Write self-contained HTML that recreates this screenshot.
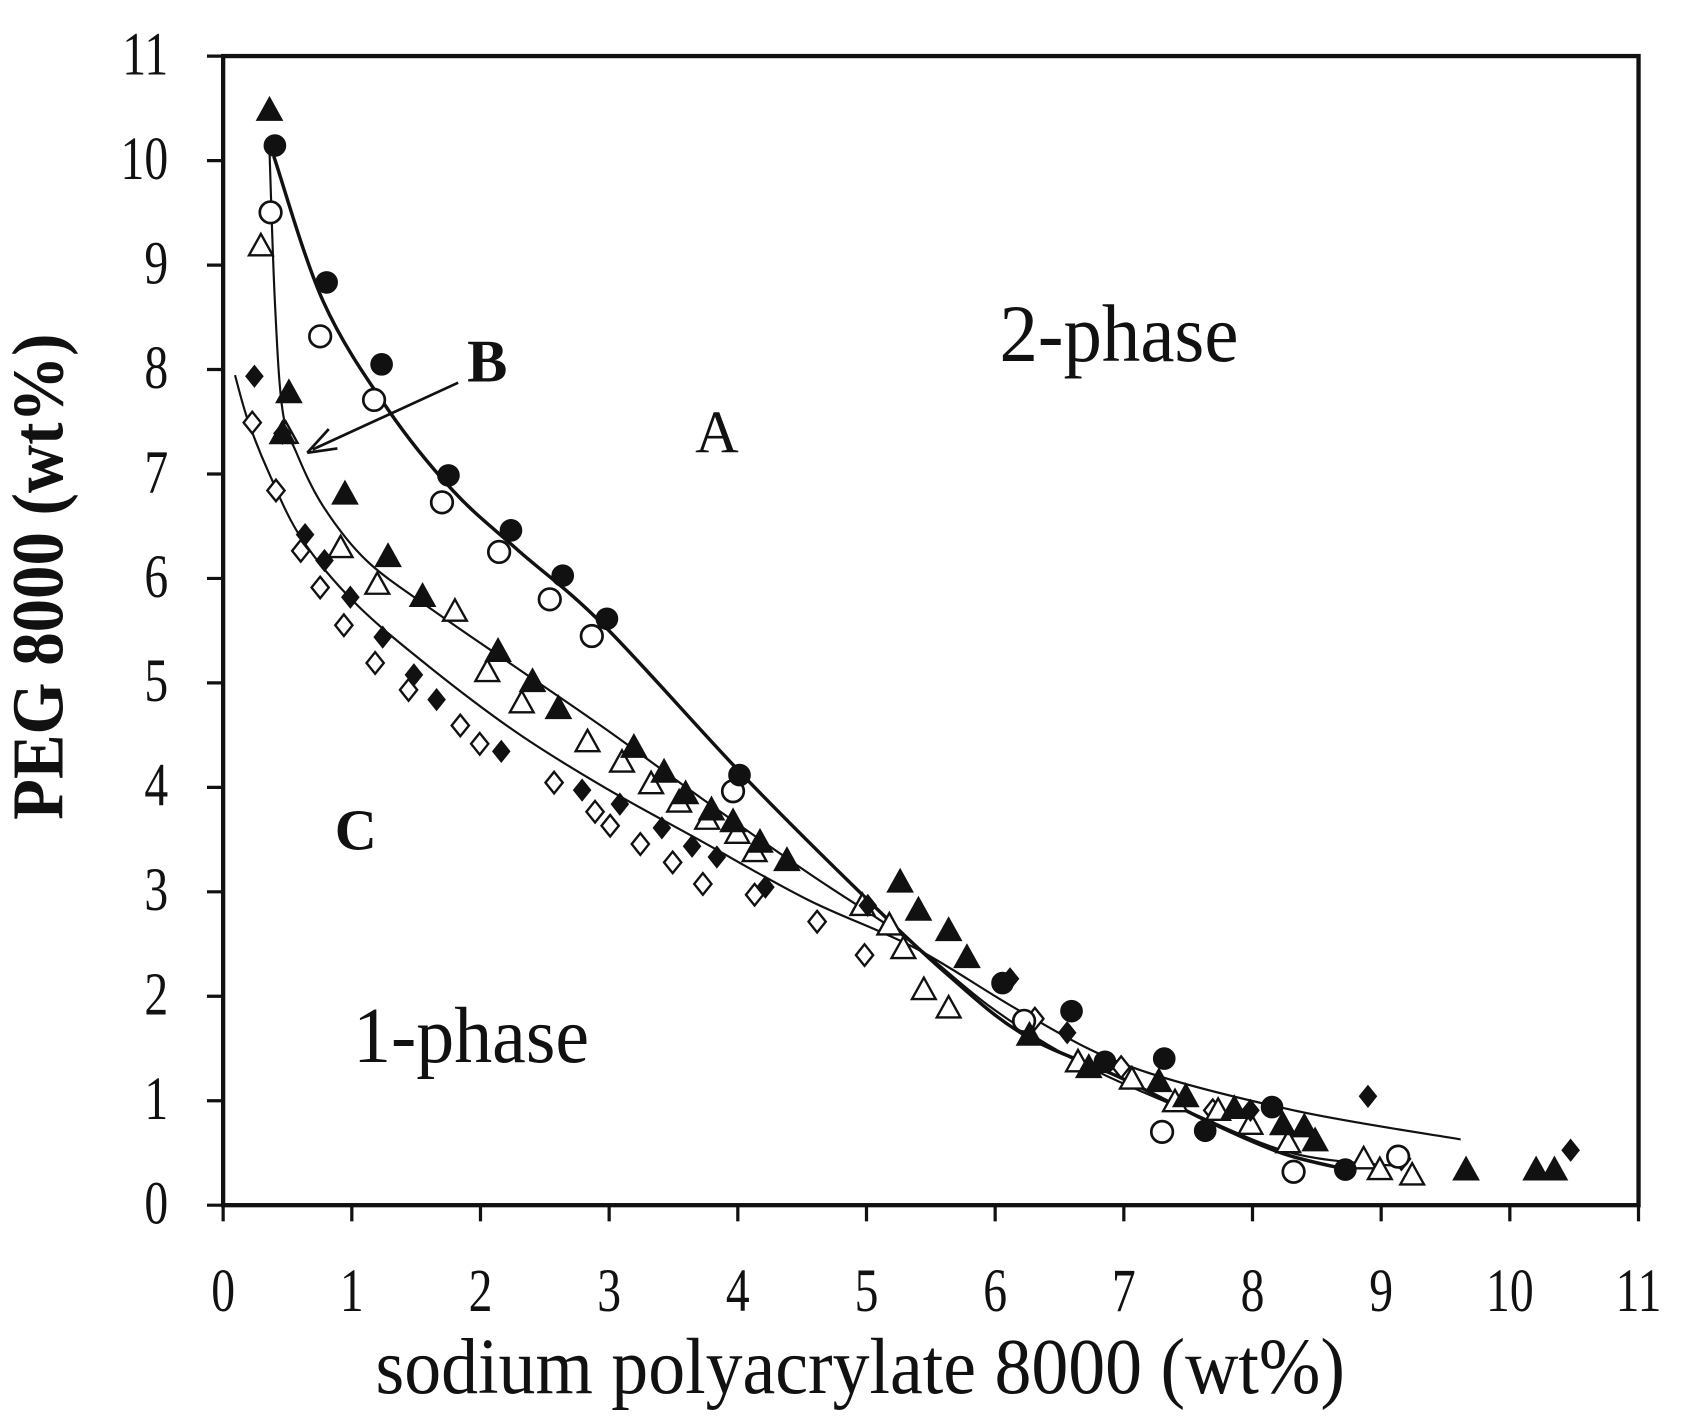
<!DOCTYPE html>
<html><head><meta charset="utf-8"><style>
html,body{margin:0;padding:0;background:#fff;}
svg{display:block;}
text{font-family:"Liberation Serif",serif;fill:#111;}
</style></head><body>
<svg id="s" width="1689" height="1428" viewBox="0 0 1566.8 1324.7" preserveAspectRatio="none" xmlns="http://www.w3.org/2000/svg">
<rect x="207" y="52" width="1313" height="1066" fill="none" stroke="#111" stroke-width="4"/>
<g id="ticks" stroke="#111" stroke-width="3"></g>
<g id="tl" font-size="52"></g>
<text transform="translate(798,1292) scale(1.07,1.15)" font-size="64" text-anchor="middle">sodium polyacrylate 8000 (wt%)</text>
<text transform="translate(58,535) rotate(-90) scale(1.0,1.1)" font-size="62" font-weight="bold" text-anchor="middle">PEG 8000 (wt%)</text>
<text x="452" y="354" font-size="56" font-weight="bold" text-anchor="middle">B</text>
<text x="665" y="420" font-size="56" text-anchor="middle">A</text>
<text transform="translate(1038,335) scale(1.08,1.15)" font-size="66" text-anchor="middle">2-phase</text>
<text x="330" y="788" font-size="54" font-weight="bold" text-anchor="middle">C</text>
<text transform="translate(437,985) scale(1.1,1.15)" font-size="64" text-anchor="middle">1-phase</text>
<line x1="425" y1="355" x2="290" y2="417" stroke="#111" stroke-width="2.5"/>
<path d="M285,420 L305,398 M285,420 L313,416" stroke="#111" stroke-width="2.5" fill="none"/>
<g id="curves" fill="none" stroke="#111" stroke-linejoin="round"></g>
<g id="pts"></g>
</svg>
<script>
var NS="http://www.w3.org/2000/svg";
function el(p,n,a){var e=document.createElementNS(NS,n);for(var k in a)e.setAttribute(k,a[k]);p.appendChild(e);return e;}
var T=document.getElementById('ticks'),L=document.getElementById('tl');
for(var i=0;i<=11;i++){var x=207+i*119.36;el(T,'line',{x1:x,y1:1118,x2:x,y2:1133});
 var t=el(L,'text',{transform:'translate('+x+',1216) scale(0.85,1.1)','text-anchor':'middle'});t.textContent=i;
 var y=1118-i*96.9;el(T,'line',{x1:192,y1:y,x2:207,y2:y});
 t=el(L,'text',{transform:'translate(156,'+(y+17)+') scale(0.85,1.1)','text-anchor':'end'});t.textContent=i;}
var C=document.getElementById('curves');
function curve(pts,w){var d='M'+pts[0];for(var i=1;i<pts.length;i++){var p0=pts[Math.max(i-2,0)],p1=pts[i-1],p2=pts[i],p3=pts[Math.min(i+1,pts.length-1)];
 d+=' C'+(p1[0]+(p2[0]-p0[0])/6)+','+(p1[1]+(p2[1]-p0[1])/6)+' '+(p2[0]-(p3[0]-p1[0])/6)+','+(p2[1]-(p3[1]-p1[1])/6)+' '+p2;}
 el(C,'path',{d:d,'stroke-width':w});}
curve([[254,145],[300,280],[360,380],[420,455],[480,510],[560,580],[690,720],[800,830],[880,905],[950,960],[1040,1000],[1120,1040],[1190,1070],[1250,1085]],3.2);
curve([[250,140],[255,280],[262,380],[275,420],[300,470],[340,520],[400,565],[480,620],[560,675],[650,740],[750,810],[840,870],[920,935],[1000,985],[1100,1030],[1200,1070],[1300,1082]],2);
curve([[218,348],[230,390],[250,440],[280,500],[330,560],[400,620],[480,680],[560,730],[650,780],[750,835],[850,880],[950,940],[1050,990],[1200,1030],[1355,1057]],2);
var P=document.getElementById('pts');
function circ(a,f){a.forEach(function(p){el(P,'circle',{cx:p[0],cy:p[1],r:10,fill:f?'#111':'#fff',stroke:'#111','stroke-width':f?1:2.5});});}
function tri(a,f){a.forEach(function(p){var x=p[0],y=p[1],s=f?12:11;el(P,'polygon',{points:(x)+','+(y-s)+' '+(x-s)+','+(y+s*0.8)+' '+(x+s)+','+(y+s*0.8),fill:f?'#111':'#fff',stroke:'#111','stroke-width':f?1:2.2});});}
function dia(a,f){a.forEach(function(p){var x=p[0],y=p[1],s=10;el(P,'polygon',{points:x+','+(y-s)+' '+(x+s*0.8)+','+y+' '+x+','+(y+s)+' '+(x-s*0.8)+','+y,fill:f?'#111':'#fff',stroke:'#111','stroke-width':f?1:2.2});});}
dia([[234,392],[256,455],[279,511],[297,545],[319,580],[348,615],[379,640],[427,673],[445,690],[514,726],[552,753],[566,766],[594,783],[624,800],[652,820],[700,830],[758,855],[802,886],[960,945],[1040,990],[1125,1030],[1300,1075]],false);
tri([[242,228],[265,402],[316,508],[350,542],[422,567],[452,623],[484,652],[545,688],[577,707],[604,727],[630,744],[656,760],[684,773],[700,790],[800,840],[825,858],[838,880],[857,918],[880,935],[1000,985],[1050,1001],[1090,1022],[1130,1030],[1160,1043],[1195,1060],[1265,1075],[1280,1085],[1310,1090]],false);
circ([[251,197],[297,312],[347,371],[410,466],[463,512],[510,556],[549,590],[680,734],[950,947],[1078,1050],[1200,1087],[1297,1073]],false);
dia([[236,349],[262,402],[283,496],[301,520],[325,554],[355,591],[384,626],[405,649],[465,697],[540,733],[575,746],[614,768],[642,785],[665,795],[710,823],[805,840],[937,908],[990,958],[1160,1030],[1269,1017],[1457,1067]],true);
tri([[250,102],[268,364],[262,402],[320,458],[360,516],[392,553],[462,604],[494,632],[518,657],[588,693],[616,716],[636,736],[660,751],[680,762],[705,781],[730,798],[835,818],[852,844],[880,863],[897,888],[955,960],[1010,990],[1075,1003],[1100,1017],[1145,1028],[1190,1043],[1210,1045],[1220,1058],[1360,1085],[1425,1085],[1442,1085]],true);
circ([[255,135],[303,262],[354,338],[416,441],[474,492],[522,534],[563,574],[686,719],[930,912],[994,938],[1025,985],[1080,982],[1118,1049],[1180,1027],[1248,1085]],true);
</script>
</body></html>
